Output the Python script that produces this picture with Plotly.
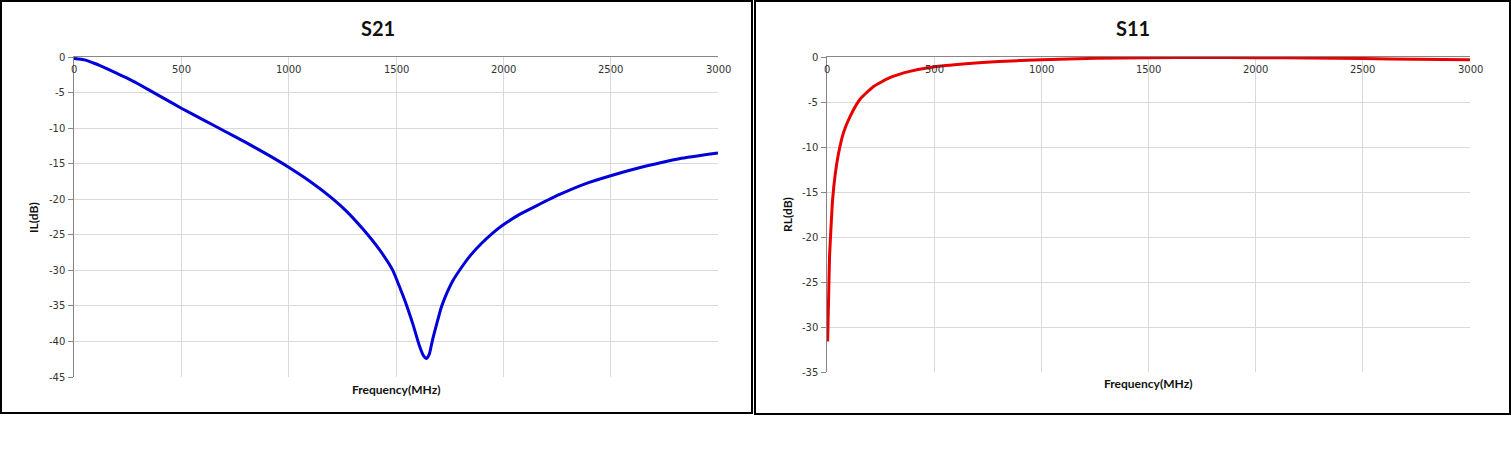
import plotly.graph_objects as go

# ---- data ----
s21_freq = [0, 50, 100, 150, 200, 250, 300, 400, 500, 600, 700, 800, 900, 1000, 1100, 1200, 1270, 1346,
            1423, 1485, 1515, 1548, 1579, 1609, 1628, 1642, 1655, 1670, 1690, 1710, 1727, 1766, 1805,
            1844, 1899, 1953, 2000, 2078, 2156, 2257, 2375, 2500, 2670, 2820, 3000]
s21_db = [-0.2, -0.4, -0.95, -1.6, -2.3, -3.0, -3.8, -5.5, -7.2, -8.8, -10.4, -12.0, -13.7, -15.5, -17.5, -19.8, -21.7, -24.2,
          -27.1, -30.0, -32.2, -34.8, -37.6, -40.6, -42.0, -42.4, -41.8, -39.8, -37.5, -35.3, -33.9, -31.4, -29.6,
          -28.0, -26.2, -24.7, -23.6, -22.1, -20.9, -19.4, -17.9, -16.7, -15.3, -14.3, -13.5]

s11_freq = [3, 8, 12, 19, 26, 39, 54, 77, 108, 154, 216, 293, 386, 494, 648, 802, 1000, 1250,
            1500, 1750, 2000, 2250, 2500, 2750, 3000]
s11_db = [-31.6, -26.2, -22.1, -18.8, -15.9, -12.9, -10.7, -8.4, -6.6, -4.7, -3.3, -2.3, -1.6, -1.1,
          -0.74, -0.5, -0.3, -0.15, -0.08, -0.05, -0.07, -0.12, -0.18, -0.25, -0.3]

x_ticks = [0, 500, 1000, 1500, 2000, 2500, 3000]
x_tick_labels = ["0", "500", "1000", "1500", "2000", "2500", "3000"]
s21_yticks = [0, -5, -10, -15, -20, -25, -30, -35, -40, -45]
s21_ytick_labels = ["0", "-5", "-10", "-15", "-20", "-25", "-30", "-35", "-40", "-45"]
s11_yticks = [0, -5, -10, -15, -20, -25, -30, -35]
s11_ytick_labels = ["0", "-5", "-10", "-15", "-20", "-25", "-30", "-35"]

W, H = 1511, 460
def px(x):
    return x / W
def py(y):
    return 1 - y / H

fig = go.Figure()
fig.add_trace(go.Scatter(x=s21_freq, y=s21_db, mode="lines", line=dict(color="#0000D8", width=3, shape="spline", smoothing=0.5),
                         xaxis="x", yaxis="y", showlegend=False, hoverinfo="skip"))
fig.add_trace(go.Scatter(x=s11_freq, y=s11_db, mode="lines", line=dict(color="#E80000", width=3, shape="spline", smoothing=0.5),
                         xaxis="x2", yaxis="y2", showlegend=False, hoverinfo="skip"))

tickfont = dict(family="DejaVu Sans", size=10, color="#333333")
grid = "#D9D9D9"
axis_line = "#868686"

common_x = dict(range=[0, 3000], tickvals=x_ticks, side="top", showticklabels=False,
                showline=True, linecolor=axis_line, linewidth=1, showgrid=True, gridcolor=grid,
                gridwidth=1, ticks="", zeroline=False, fixedrange=True, automargin=False)
common_y = dict(showline=True, linecolor=axis_line, linewidth=1, showgrid=True, gridcolor=grid,
                gridwidth=1, ticks="outside", ticklen=5, tickcolor=axis_line, showticklabels=False,
                zeroline=False, fixedrange=True, automargin=False)

fig.update_layout(
    width=W, height=H, autosize=False, margin=dict(l=0, r=0, t=0, b=0, pad=0),
    paper_bgcolor="white", plot_bgcolor="white",
    xaxis=dict(domain=[px(74), px(718)], anchor="y", **common_x),
    yaxis=dict(domain=[py(377), py(57)], anchor="x", range=[-45, 0], tickvals=s21_yticks, **common_y),
    xaxis2=dict(domain=[px(827), px(1470)], anchor="y2", **common_x),
    yaxis2=dict(domain=[py(372), py(57)], anchor="x2", range=[-35, 0], tickvals=s11_yticks, **common_y),
    shapes=[
        dict(type="rect", xref="paper", yref="paper", x0=px(1), x1=px(752), y0=py(413), y1=py(1),
             line=dict(color="black", width=2)),
        dict(type="rect", xref="paper", yref="paper", x0=px(755), x1=px(1510), y0=py(414), y1=py(1),
             line=dict(color="black", width=2)),
    ],
)

# tick labels (Excel style: plain hyphen, x labels just below the top axis line)
for xr, yr in (("x", "y"), ("x2", "y2")):
    for v, t in zip(x_ticks, x_tick_labels):
        fig.add_annotation(xref=xr, yref=yr, x=v, y=0, text=t, showarrow=False, xanchor="center",
                           yanchor="top", yshift=-5, font=tickfont)
for yr, xr, vals, labs in (("y", "x", s21_yticks, s21_ytick_labels), ("y2", "x2", s11_yticks, s11_ytick_labels)):
    for v, t in zip(vals, labs):
        fig.add_annotation(xref=xr, yref=yr, x=0, y=v, text=t, showarrow=False, xanchor="right",
                           yanchor="middle", xshift=-7, font=tickfont)

title_font = dict(family="Lato", size=20, color="#111111")
lab_font = dict(family="Lato", size=12, color="#111111")
ann = [
    dict(text="<b>S21</b>", x=px(378), y=py(28), font=title_font),
    dict(text="<b>S11</b>", x=px(1133), y=py(28), font=title_font),
    dict(text="<b>Frequency(MHz)</b>", x=px(396), y=py(389), font=lab_font),
    dict(text="<b>Frequency(MHz)</b>", x=px(1148), y=py(383), font=lab_font),
    dict(text="<b>IL(dB)</b>", x=px(34), y=py(218), font=lab_font, textangle=-90),
    dict(text="<b>RL(dB)</b>", x=px(787), y=py(215), font=lab_font, textangle=-90),
]
for a in ann:
    fig.add_annotation(xref="paper", yref="paper", showarrow=False, xanchor="center", yanchor="middle", **a)

fig.write_html("out.html", config={"displayModeBar": False},
               post_script="document.body.style.margin='0';document.body.style.overflow='hidden';")
